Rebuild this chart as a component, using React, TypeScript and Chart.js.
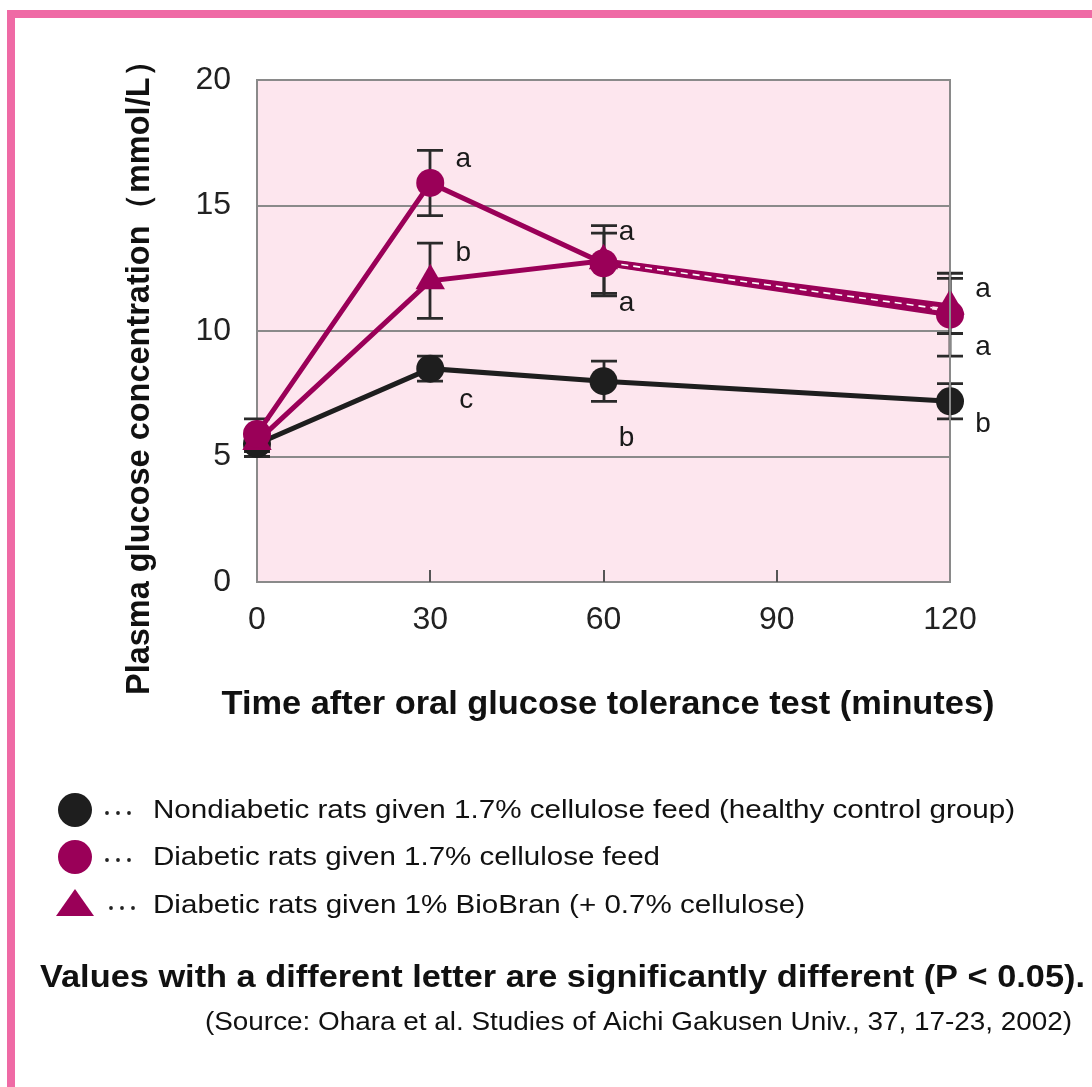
import React, { useEffect, useRef } from "react";
import { Chart, registerables } from "chart.js";

Chart.register(...registerables);

// ---------- data ----------
const times = [0, 30, 60, 120];
const xTickValues = [0, 30, 60, 90, 120];
const yTickValues = [0, 5, 10, 15, 20];

const nondiabetic = [5.5, 8.5, 8.0, 7.2];
const nondiabeticErr = [0.5, 0.5, 0.8, 0.7];
const nondiabeticLetters = ["", "c", "b", "b"];

const diabeticCellulose = [5.9, 15.9, 12.7, 10.65];
const diabeticCelluloseErr = [0.6, 1.3, 1.2, 1.65];
const diabeticCelluloseLetters = ["", "a", "a", "a"];

const diabeticBioBran = [5.6, 12.0, 12.8, 11.0];
const diabeticBioBranErr = [0.4, 1.5, 1.4, 1.1];
const diabeticBioBranLetters = ["", "b", "a", "a"];

const legendLabels = [
  "Nondiabetic rats given 1.7% cellulose feed (healthy control group)",
  "Diabetic rats given 1.7% cellulose feed",
  "Diabetic rats given 1% BioBran (+ 0.7% cellulose)",
];
const xTitle = "Time after oral glucose tolerance test (minutes)";
const yTitle = "Plasma glucose concentration\uFF08mmol/L\uFF09";
const noteText = "Values with a different letter are significantly different (P < 0.05).";
const sourceText = "(Source: Ohara et al. Studies of Aichi Gakusen Univ., 37, 17-23, 2002)";

// ---------- styles ----------
const FONT = '"Liberation Sans", Arial, Helvetica, sans-serif';
const BLACK = "#1e1e1e";
const MAGENTA = "#9a0058";
const PLOT_BG = "#fde6ee";
const FRAME = "#ef6aa5";
const GRID = "#8a8a8a";
const ERR = "#2a2a2a";

// letter label offsets (px) relative to each point, per series
const letterOffsets = [
  [[0, 0], [36, 32], [23, 57], [33, 23]],
  [[0, 0], [33, -24], [23, 40], [33, 33]],
  [[0, 0], [33, -28], [23, -28], [33, -17]],
];

const W = 1092;
const H = 1087;

function fitText(ctx: CanvasRenderingContext2D, text: string, x: number, y: number, w: number, align: "left" | "center") {
  const m = ctx.measureText(text).width;
  const sx = w / m;
  ctx.save();
  ctx.translate(x, y);
  ctx.scale(sx, 1);
  ctx.textAlign = "left";
  ctx.fillText(text, align === "center" ? -m / 2 : 0, 0);
  ctx.restore();
}

export default function App() {
  const ref = useRef<HTMLCanvasElement | null>(null);

  useEffect(() => {
    const canvas = ref.current;
    if (!canvas) return;

    const errs = [nondiabeticErr, diabeticCelluloseErr, diabeticBioBranErr];
    const letters = [nondiabeticLetters, diabeticCelluloseLetters, diabeticBioBranLetters];

    const deco = {
      id: "deco",
      beforeDraw(chart: any) {
        const ctx = chart.ctx;
        const ca = chart.chartArea;
        ctx.save();
        ctx.fillStyle = "#ffffff";
        ctx.fillRect(0, 0, W, H);
        ctx.fillStyle = FRAME;
        ctx.fillRect(7, 10, W - 7, 8);
        ctx.fillRect(7, 10, 8, H - 10);
        ctx.fillStyle = PLOT_BG;
        ctx.fillRect(ca.left, ca.top, ca.right - ca.left, ca.bottom - ca.top);
        ctx.restore();
      },
      afterDraw(chart: any) {
        const ctx = chart.ctx;
        const ca = chart.chartArea;
        const xs = chart.scales.x;
        ctx.save();
        ctx.strokeStyle = GRID;
        ctx.lineWidth = 2;
        ctx.beginPath();
        ctx.moveTo(ca.left, ca.top);
        ctx.lineTo(ca.right, ca.top);
        ctx.lineTo(ca.right, ca.bottom);
        ctx.stroke();
        ctx.strokeStyle = "#555";
        ctx.lineWidth = 2;
        xTickValues.slice(1, -1).forEach((v) => {
          const px = Math.round(xs.getPixelForValue(v));
          ctx.beginPath();
          ctx.moveTo(px, ca.bottom);
          ctx.lineTo(px, ca.bottom - 12);
          ctx.stroke();
        });

        // axis titles
        ctx.fillStyle = "#111";
        ctx.textBaseline = "middle";
        ctx.font = `bold 33px ${FONT}`;
        fitText(ctx, xTitle, 608, 705, 773, "center");
        ctx.save();
        ctx.translate(140, 370);
        ctx.rotate(-Math.PI / 2);
        fitText(ctx, yTitle, 0, 0, 650, "center");
        ctx.restore();

        // legend
        const rows = [810, 857, 905];
        ctx.fillStyle = BLACK;
        ctx.beginPath();
        ctx.arc(75, rows[0], 17, 0, Math.PI * 2);
        ctx.fill();
        ctx.fillStyle = MAGENTA;
        ctx.beginPath();
        ctx.arc(75, rows[1], 17, 0, Math.PI * 2);
        ctx.fill();
        ctx.beginPath();
        ctx.moveTo(75, 889);
        ctx.lineTo(94, 916);
        ctx.lineTo(56, 916);
        ctx.closePath();
        ctx.fill();
        ctx.fillStyle = "#222";
        const dotStarts = [107, 107, 111];
        rows.forEach((ry, i) => {
          for (let k = 0; k < 3; k++) {
            ctx.beginPath();
            ctx.arc(dotStarts[i] + k * 11, ry + 3, 1.9, 0, Math.PI * 2);
            ctx.fill();
          }
        });
        ctx.fillStyle = "#111";
        ctx.textBaseline = "middle";
        ctx.font = `26px ${FONT}`;
        const legendWidths = [862, 507, 652];
        legendLabels.forEach((t, i) => {
          fitText(ctx, t, 153, rows[i] + 1, legendWidths[i], "left");
        });

        // notes
        ctx.font = `bold 32px ${FONT}`;
        ctx.textBaseline = "alphabetic";
        fitText(ctx, noteText, 40, 987, 1045, "left");
        ctx.font = `25px ${FONT}`;
        fitText(ctx, sourceText, 205, 1030, 867, "left");
        ctx.restore();
      },
      beforeDatasetsDraw(chart: any) {
        const ctx = chart.ctx;
        const ys = chart.scales.y;
        ctx.save();
        ctx.strokeStyle = ERR;
        ctx.lineWidth = 2.8;
        chart.data.datasets.forEach((ds: any, di: number) => {
          const meta = chart.getDatasetMeta(di);
          ds.data.forEach((pt: any, i: number) => {
            const v = pt.y;
            const e = errs[di][i];
            const x = Math.round(meta.data[i].x);
            const yt = ys.getPixelForValue(v + e);
            const yb = ys.getPixelForValue(v - e);
            ctx.beginPath();
            ctx.moveTo(x, yt);
            ctx.lineTo(x, yb);
            ctx.moveTo(x - 13, yt);
            ctx.lineTo(x + 13, yt);
            ctx.moveTo(x - 13, yb);
            ctx.lineTo(x + 13, yb);
            ctx.stroke();
          });
        });
        ctx.restore();
      },
      afterDatasetsDraw(chart: any) {
        const ctx = chart.ctx;
        ctx.save();
        const m1 = chart.getDatasetMeta(1).data;
        const m2 = chart.getDatasetMeta(2).data;
        const a = { x: (m1[2].x + m2[2].x) / 2, y: (m1[2].y + m2[2].y) / 2 };
        const b = { x: (m1[3].x + m2[3].x) / 2, y: (m1[3].y + m2[3].y) / 2 };
        const len = Math.hypot(b.x - a.x, b.y - a.y);
        const ux = (b.x - a.x) / len;
        const uy = (b.y - a.y) / len;
        const s = { x: a.x + ux * 18, y: a.y + uy * 18 };
        const t = { x: b.x - ux * 18, y: b.y - uy * 18 };
        ctx.strokeStyle = MAGENTA;
        ctx.lineWidth = 7;
        ctx.beginPath();
        ctx.moveTo(s.x, s.y);
        ctx.lineTo(t.x, t.y);
        ctx.stroke();
        ctx.strokeStyle = "#ffffff";
        ctx.lineWidth = 1.6;
        ctx.setLineDash([7, 5]);
        ctx.beginPath();
        ctx.moveTo(s.x, s.y);
        ctx.lineTo(t.x, t.y);
        ctx.stroke();
        ctx.setLineDash([]);

        ctx.fillStyle = "#1a1a1a";
        ctx.font = `28px ${FONT}`;
        ctx.textAlign = "center";
        ctx.textBaseline = "middle";
        chart.data.datasets.forEach((_ds: any, di: number) => {
          const meta = chart.getDatasetMeta(di);
          letters[di].forEach((L: string, i: number) => {
            if (!L) return;
            const [dx, dy] = letterOffsets[di][i];
            ctx.fillText(L, meta.data[i].x + dx, meta.data[i].y + dy);
          });
        });
        ctx.restore();
      },
    };

    const toXY = (arr: number[]) => arr.map((v, i) => ({ x: times[i], y: v }));

    const chart = new Chart(canvas, {
      type: "line",
      data: {
        datasets: [
          {
            label: legendLabels[0],
            data: toXY(nondiabetic) as any,
            borderColor: BLACK,
            backgroundColor: BLACK,
            borderWidth: 5,
            pointStyle: "circle",
            pointRadius: 14,
            pointBorderWidth: 0,
            clip: false,
            order: 3,
          },
          {
            label: legendLabels[1],
            data: toXY(diabeticCellulose) as any,
            borderColor: MAGENTA,
            backgroundColor: MAGENTA,
            borderWidth: 5,
            pointStyle: "circle",
            pointRadius: 14,
            pointBorderWidth: 0,
            clip: false,
            order: 1,
          },
          {
            label: legendLabels[2],
            data: toXY(diabeticBioBran) as any,
            borderColor: MAGENTA,
            backgroundColor: MAGENTA,
            borderWidth: 5,
            pointStyle: "triangle",
            pointRadius: 17,
            pointBorderWidth: 0,
            clip: false,
            order: 2,
          },
        ],
      },
      options: {
        responsive: false,
        animation: false,
        devicePixelRatio: 1,
        layout: { padding: { left: 0, top: 80, right: 142, bottom: 0 } },
        plugins: {
          legend: { display: false },
          tooltip: { enabled: false },
          title: { display: false },
        },
        scales: {
          x: {
            type: "linear",
            min: 0,
            max: 120,
            afterBuildTicks: (sc: any) => {
              sc.ticks = xTickValues.map((v) => ({ value: v }));
            },
            afterFit: (sc: any) => {
              sc.height = H - 582;
            },
            grid: { display: false, drawTicks: false },
            border: { display: true, color: GRID, width: 2 },
            ticks: {
              color: "#222",
              font: { family: FONT, size: 32 },
              padding: 19,
              maxRotation: 0,
            },
          },
          y: {
            type: "linear",
            min: 0,
            max: 20,
            afterBuildTicks: (sc: any) => {
              sc.ticks = yTickValues.map((v) => ({ value: v }));
            },
            afterFit: (sc: any) => {
              sc.width = 257;
            },
            grid: { color: GRID, lineWidth: 2, drawTicks: false },
            border: { display: true, color: GRID, width: 2 },
            ticks: {
              color: "#222",
              font: { family: FONT, size: 32 },
              padding: 26,
            },
          },
        },
      },
      plugins: [deco],
    } as any);

    return () => chart.destroy();
  }, []);

  return (
    <div style={{ position: "absolute", left: 0, top: 0, width: W, height: H }}>
      <canvas ref={ref} width={W} height={H} style={{ display: "block", width: W, height: H }} />
    </div>
  );
}
